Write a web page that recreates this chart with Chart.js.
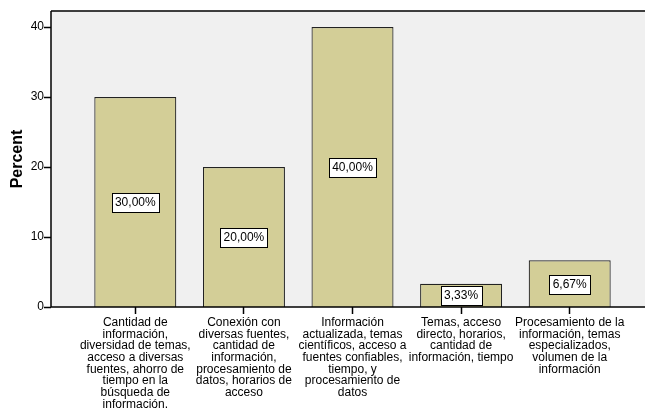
<!DOCTYPE html>
<html>
<head>
<meta charset="utf-8">
<script src="https://cdn.jsdelivr.net/npm/chart.js@4"></script>
<style>
  html, body { margin: 0; padding: 0; background: #fff; }
  #wrap { width: 645px; height: 408px; }
</style>
</head>
<body>
<div id="wrap"><canvas id="grafica" width="645" height="408"></canvas></div>
<script>
const categorias = [
    ["Cantidad de", "información,", "diversidad de temas,", "acceso a diversas", "fuentes, ahorro de", "tiempo en la", "búsqueda de", "información."],
    ["Conexión con", "diversas fuentes,", "cantidad de", "información,", "procesamiento de", "datos, horarios de", "acceso"],
    ["Información", "actualizada, temas", "científicos, acceso a", "fuentes confiables,", "tiempo, y", "procesamiento de", "datos"],
    ["Temas, acceso", "directo, horarios,", "cantidad de", "información, tiempo"],
    ["Procesamiento de la", "información, temas", "especializados,", "volumen de la", "información"]
];
const percent = [30.00, 20.00, 40.00, 3.33, 6.67];
const ticksY = [0, 10, 20, 30, 40];

const FONT = "'Liberation Sans', Arial, sans-serif";
const PLOT_LEFT = 51;   // where the y axis line sits

// gray plot background, frame lines, y ticks and value boxes
const marcoSPSS = {
    id: "marcoSPSS",
    beforeDatasetsDraw(chart) {
        const { ctx, chartArea } = chart;
        ctx.save();
        ctx.fillStyle = "#f0f0f0";
        ctx.fillRect(PLOT_LEFT, chartArea.top, chart.width - PLOT_LEFT, chartArea.bottom - chartArea.top);
        ctx.restore();
    },
    afterDatasetsDraw(chart) {
        const { ctx, chartArea } = chart;
        const y = chart.scales.y;
        ctx.save();
        ctx.strokeStyle = "#000";
        ctx.lineWidth = 1.5;
        ctx.beginPath();
        ctx.moveTo(PLOT_LEFT, chartArea.top);
        ctx.lineTo(chart.width, chartArea.top);
        ctx.moveTo(PLOT_LEFT, chartArea.top);
        ctx.lineTo(PLOT_LEFT, chartArea.bottom);
        ctx.lineTo(chart.width, chartArea.bottom);
        ctx.stroke();
        ctx.beginPath();
        ticksY.forEach(v => {
            const py = Math.round(y.getPixelForValue(v)) + 0.5;
            ctx.moveTo(PLOT_LEFT - 7, py);
            ctx.lineTo(PLOT_LEFT, py);
        });
        ctx.stroke();

        // value labels
        const meta = chart.getDatasetMeta(0);
        ctx.font = "12px " + FONT;
        ctx.textAlign = "center";
        ctx.textBaseline = "middle";
        meta.data.forEach((bar, i) => {
            const txt = percent[i].toFixed(2).replace(".", ",") + "%";
            const cy = Math.round(y.getPixelForValue(percent[i] / 2));
            const w = Math.ceil(ctx.measureText(txt).width) + 6;
            const h = 19;
            const bx = Math.round(bar.x - w / 2) + 0.5;
            const by = Math.round(cy - h / 2) + 0.5;
            ctx.fillStyle = "#fff";
            ctx.fillRect(bx, by, w, h);
            ctx.strokeStyle = "#000";
            ctx.lineWidth = 1;
            ctx.strokeRect(bx, by, w, h);
            ctx.fillStyle = "#000";
            ctx.fillText(txt, bar.x, cy + 1);
        });
        ctx.restore();
    }
};

const ctx = document.getElementById("grafica").getContext("2d");
const grafica = new Chart(ctx, {
    type: "bar",
    data: {
        labels: categorias,
        datasets: [{
            label: "Percent",
            data: percent,
            backgroundColor: "#d3ce97",
            borderColor: "#222",
            borderWidth: 1.2,
            barPercentage: 0.755,
            categoryPercentage: 1
        }]
    },
    options: {
        responsive: false,
        animation: false,
        layout: { padding: { top: 11, right: 21, left: 0, bottom: 0 } },
        plugins: {
            legend: { display: false },
            tooltip: { enabled: false }
        },
        scales: {
            x: {
                offset: true,
                border: { display: false },
                grid: {
                    display: true,
                    drawOnChartArea: false,
                    offset: false,
                    tickLength: 7,
                    tickWidth: 1.5,
                    tickColor: "#000"
                },
                ticks: {
                    autoSkip: false,
                    maxRotation: 0,
                    minRotation: 0,
                    padding: 3,
                    color: "#000",
                    font: { family: FONT, size: 12, lineHeight: 0.97 }
                },
                afterFit(scale) { scale.height = 101; }
            },
            y: {
                min: 0,
                max: 42.3,
                border: { display: false },
                grid: { display: false, drawTicks: false, tickLength: 0 },
                afterBuildTicks(scale) { scale.ticks = ticksY.map(v => ({ value: v })); },
                ticks: {
                    padding: 37,
                    color: "#000",
                    font: { family: FONT, size: 12 }
                },
                title: {
                    display: true,
                    text: "Percent",
                    color: "#000",
                    font: { family: FONT, size: 16, weight: "bold" },
                    padding: { top: 8, bottom: 0 }
                },
                afterFit(scale) {
                    scale.width = 81;
                    scale.paddingTop = 0;
                    scale.paddingBottom = 0;
                }
            }
        }
    },
    plugins: [marcoSPSS]
});
</script>
</body>
</html>
